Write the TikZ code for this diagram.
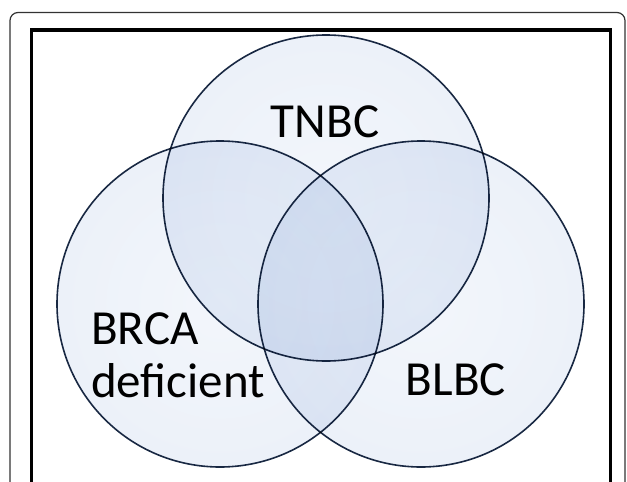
\documentclass[tikz,border=0pt]{standalone}
\usepackage{fontspec}
\setmainfont{Carlito}
\usetikzlibrary{shapes.geometric}
\definecolor{ringline}{HTML}{1A2A44}
\definecolor{frameline}{HTML}{333333}
\pgfdeclareradialshading{bubble}{\pgfpoint{0bp}{0bp}}{%
  color(0bp)=(rgb,255:red,243;green,246;blue,251);
  color(35bp)=(rgb,255:red,233;green,239;blue,248);
  color(42bp)=(rgb,255:red,224;green,233;blue,246);
  color(46.5bp)=(rgb,255:red,200;green,216;blue,240);
  color(49bp)=(rgb,255:red,150;green,180;blue,225);
  color(50bp)=(rgb,255:red,100;green,135;blue,190)}
\tikzset{
  bubblenode/.style={circle, minimum size=326pt, inner sep=0pt, shading=bubble, draw=ringline, line width=1.6pt},
  label/.style={font=\fontsize{49}{50}\selectfont, text=black, inner sep=0pt}
}
\begin{document}
\begin{tikzpicture}[x=1pt,y=-1pt]
\useasboundingbox (0,0) rectangle (627,482);
\clip (0,0) rectangle (627,482);
\draw[frameline, line width=1.2pt, rounded corners=8pt] (10,12.5) rectangle (625,520);
\draw[black, line width=3.6pt] (31.5,30) rectangle (610.5,520);
\begin{scope}[blend group=multiply]
\node[bubblenode] (tnbc) at (326,198) {};
\node[bubblenode] (brca) at (220,304) {};
\node[bubblenode] (blbc) at (421,304) {};
\end{scope}
\node[label, anchor=base] (tnbcl) at (325,137) {TNBC};
\node[label, anchor=base west, align=left] (brcal) at (91,397) {BRCA\\[3pt]deficient};
\node[label, anchor=base] (blbcl) at (456,395) {BLBC};
\end{tikzpicture}
\end{document}
